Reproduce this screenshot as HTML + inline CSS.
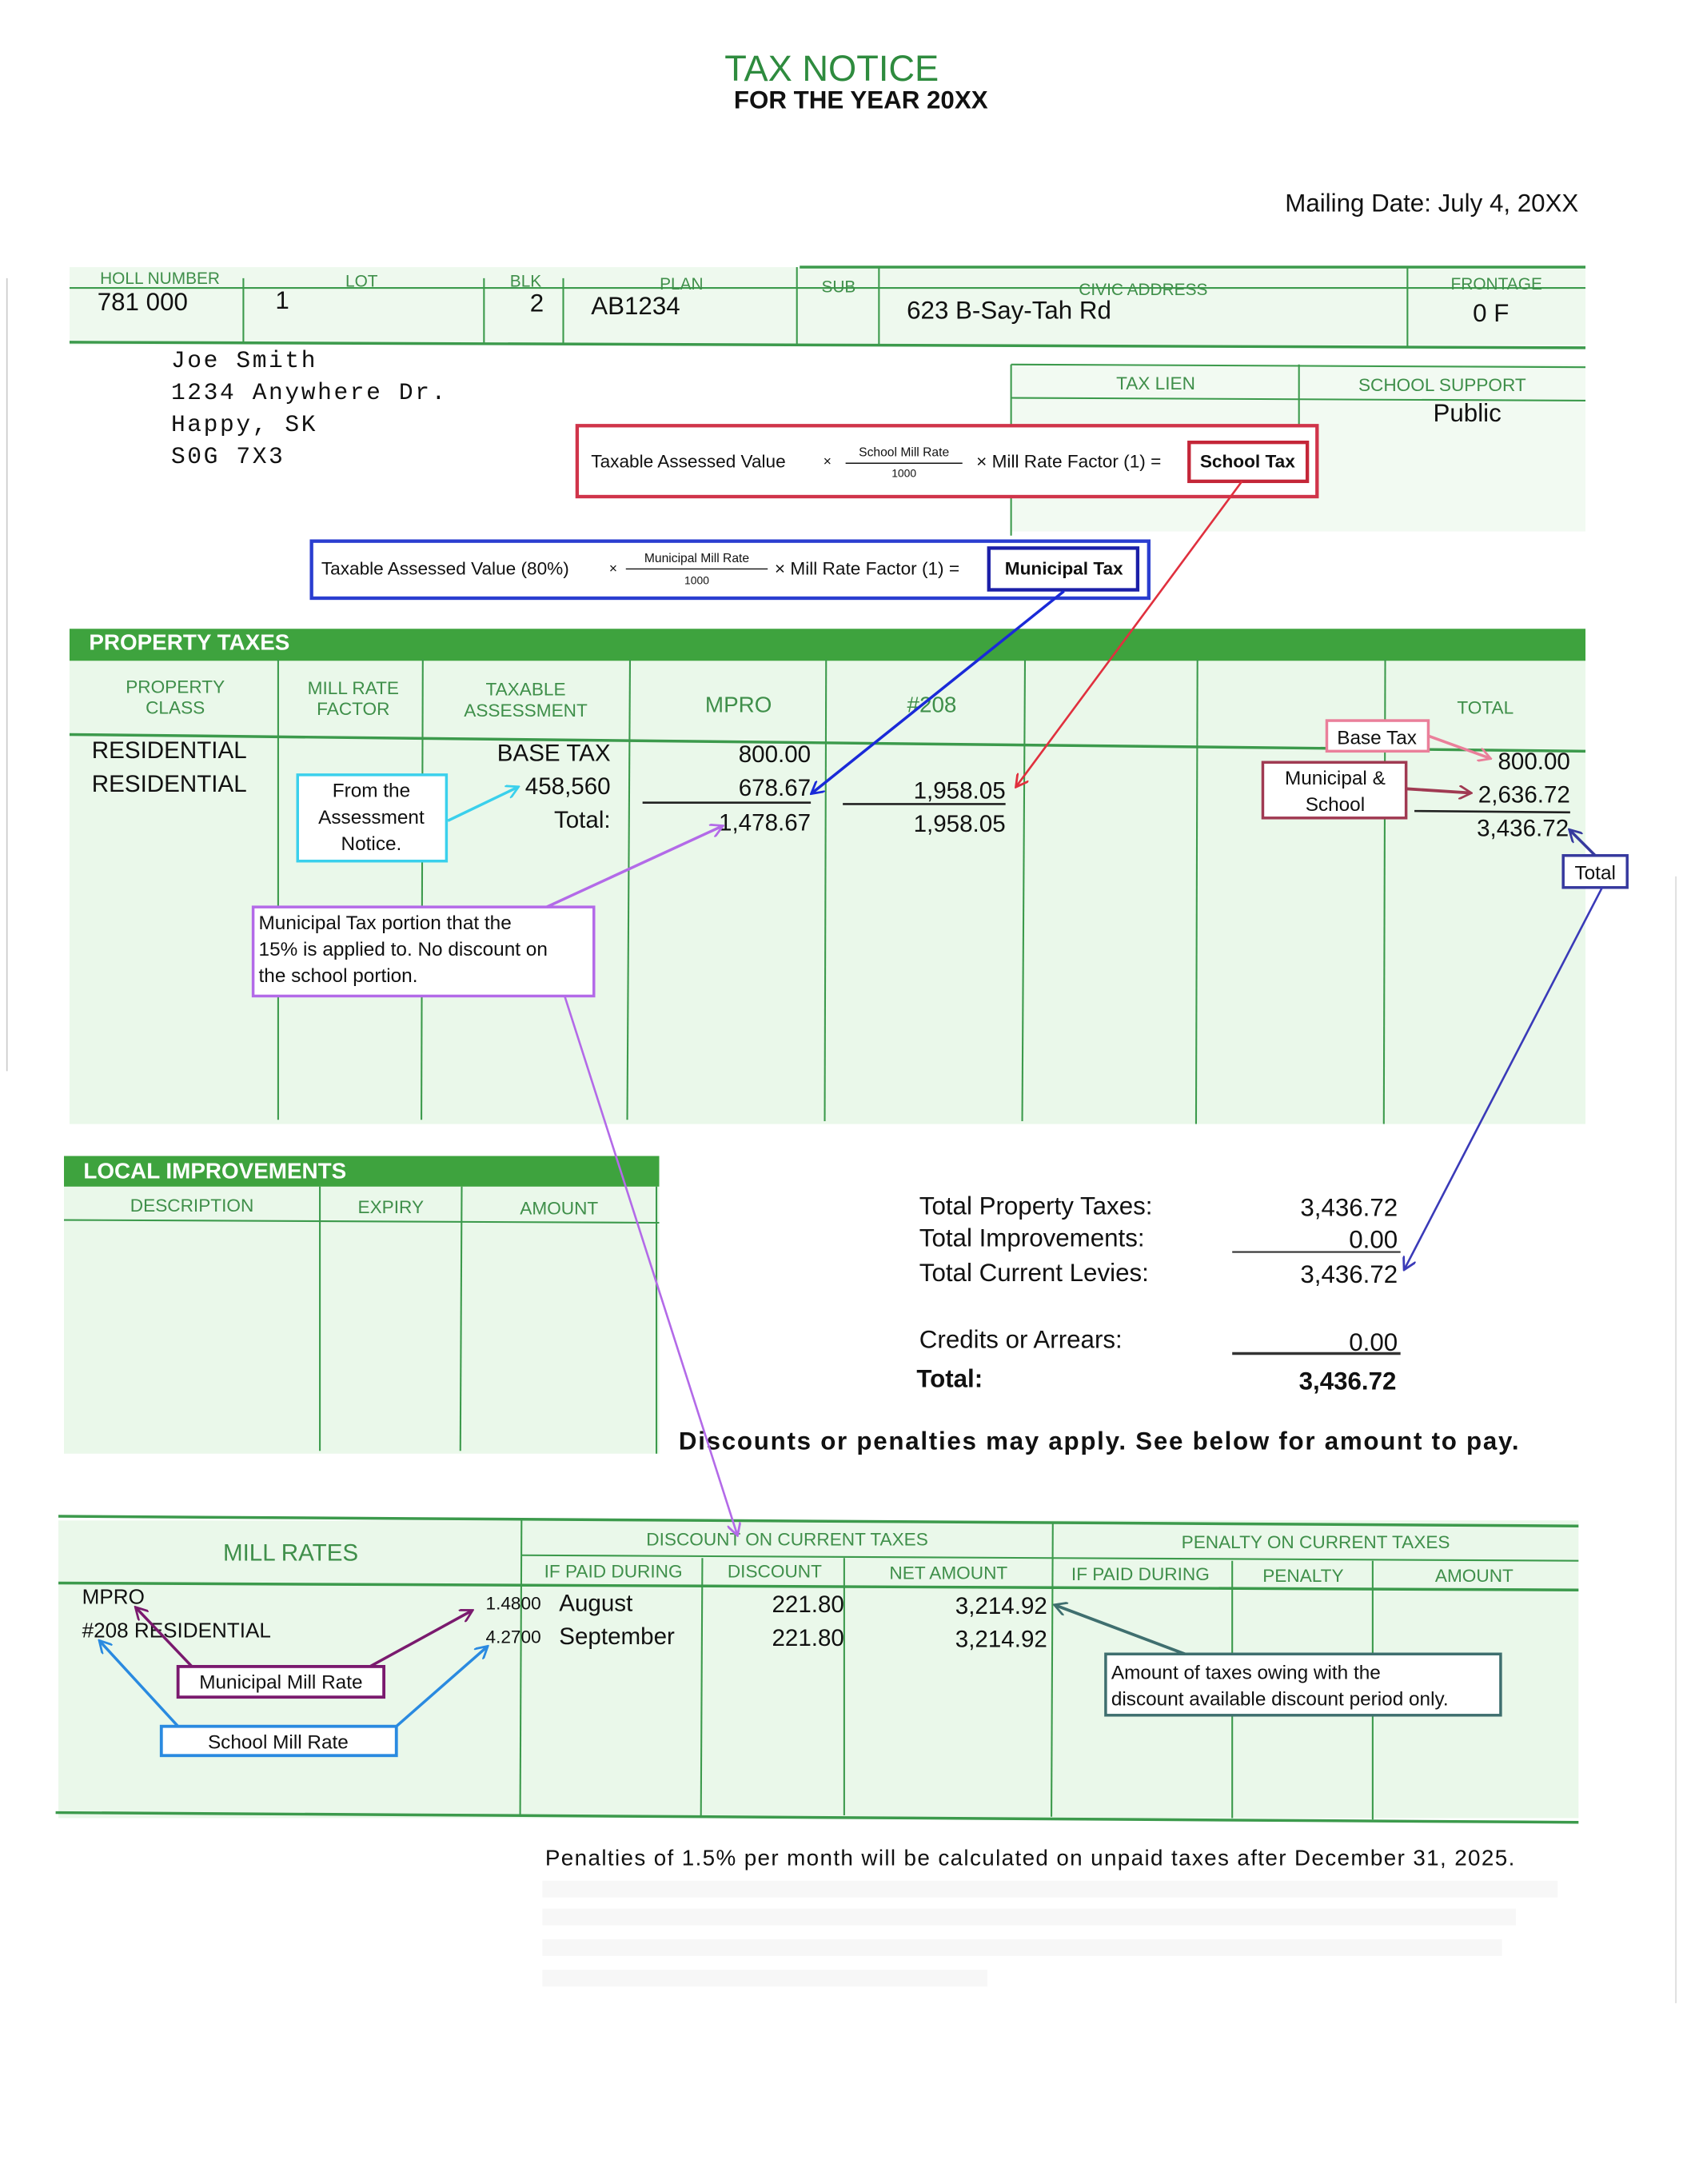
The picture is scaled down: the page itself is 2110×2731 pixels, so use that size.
<!DOCTYPE html>
<html><head><meta charset="utf-8"><style>
html,body{margin:0;padding:0;background:#fff;}
svg{display:block;}
text{font-family:"Liberation Sans",Arial,sans-serif;}
text.m{font-family:"Liberation Mono","DejaVu Sans Mono",monospace;letter-spacing:1.5px;}
.g{fill:#3f8f4a;}
.ln{stroke:#3c9a4c;stroke-width:1.2;fill:none;}
.th{stroke:#3c9a4c;stroke-width:2;fill:none;}
.b{fill:#111;}
</style></head><body>
<svg width="2110" height="2731" viewBox="0 0 1213 1570" xmlns="http://www.w3.org/2000/svg">
<defs>
<marker id="a" markerWidth="10" markerHeight="10" refX="8" refY="5" orient="auto" markerUnits="userSpaceOnUse"><path d="M0,0 L9,5 L0,10" fill="none" stroke="context-stroke" stroke-width="1.6"/></marker>
</defs>
<rect width="1213" height="1570" fill="#fff"/>
<line x1="5" y1="200" x2="5" y2="770" stroke="#ccc" stroke-width="1"/>
<line x1="1205" y1="630" x2="1205" y2="1440" stroke="#ddd" stroke-width="1"/>

<text x="598" y="58" text-anchor="middle" font-size="26" fill="#2e8b3e">TAX NOTICE</text>
<text x="619" y="78" text-anchor="middle" font-size="18" font-weight="bold" class="b">FOR THE YEAR 20XX</text>
<text x="1135" y="152" text-anchor="end" font-size="18" class="b">Mailing Date: July 4, 20XX</text>

<rect x="50" y="192" width="1090" height="56" fill="#eef9ee"/>
<line class="th" x1="575" y1="192" x2="1140" y2="192"/>
<line class="ln" x1="50" y1="207" x2="1140" y2="207"/>
<line class="th" x1="50" y1="246" x2="1140" y2="250"/>
<g class="ln"><line x1="175" y1="200" x2="175" y2="246"/><line x1="348" y1="200" x2="348" y2="247"/><line x1="405" y1="200" x2="405" y2="247"/><line x1="573" y1="192" x2="573" y2="248"/><line x1="632" y1="192" x2="632" y2="248"/><line x1="1012" y1="192" x2="1012" y2="250"/></g>
<g font-size="12" class="g" text-anchor="middle">
<text x="115" y="204">HOLL NUMBER</text><text x="260" y="206">LOT</text><text x="378" y="206">BLK</text><text x="490" y="208">PLAN</text><text x="603" y="210">SUB</text><text x="822" y="212">CIVIC ADDRESS</text><text x="1076" y="208">FRONTAGE</text></g>
<g font-size="18" class="b">
<text x="70" y="223">781 000</text><text x="198" y="222">1</text><text x="381" y="224">2</text><text x="425" y="226">AB1234</text><text x="652" y="229">623 B-Say-Tah Rd</text><text x="1059" y="231">0 F</text></g>

<g font-size="17" class="b">
<text class="m" x="123" y="264">Joe Smith</text>
<text class="m" x="123" y="287">1234 Anywhere Dr.</text>
<text class="m" x="123" y="310">Happy, SK</text>
<text class="m" x="123" y="333">S0G 7X3</text></g>

<rect x="727" y="262" width="413" height="120" fill="#f2faf2"/>
<line class="ln" x1="727" y1="262" x2="1140" y2="264"/>
<line class="ln" x1="727" y1="286" x2="1140" y2="288"/>
<line class="ln" x1="727" y1="262" x2="727" y2="385"/>
<line class="ln" x1="934" y1="262" x2="934" y2="305"/>
<text x="831" y="280" font-size="13" class="g" text-anchor="middle">TAX LIEN</text>
<text x="1037" y="281" font-size="13" class="g" text-anchor="middle">SCHOOL SUPPORT</text>
<text x="1055" y="303" font-size="18" class="b" text-anchor="middle">Public</text>

<rect x="415" y="306" width="532" height="51" fill="#fff" stroke="#d0344a" stroke-width="2.5"/>
<text x="425" y="336" font-size="13" class="b">Taxable Assessed Value</text>
<text x="592" y="335" font-size="10" class="b">×</text>
<text x="650" y="328" font-size="9" text-anchor="middle" class="b">School Mill Rate</text>
<line x1="608" y1="333" x2="692" y2="333" stroke="#111" stroke-width="0.8"/>
<text x="650" y="343" font-size="8" text-anchor="middle" class="b">1000</text>
<text x="702" y="336" font-size="13" class="b">× Mill Rate Factor (1) =</text>
<rect x="855" y="318" width="85" height="28" fill="#fff" stroke="#c42638" stroke-width="2.5"/>
<text x="897" y="336" font-size="13" font-weight="bold" text-anchor="middle" class="b">School Tax</text>

<rect x="224" y="389" width="602" height="41" fill="#fff" stroke="#2a3ed0" stroke-width="2.5"/>
<text x="231" y="413" font-size="13" class="b">Taxable Assessed Value (80%)</text>
<text x="438" y="412" font-size="10" class="b">×</text>
<text x="501" y="404" font-size="9" text-anchor="middle" class="b">Municipal Mill Rate</text>
<line x1="450" y1="409" x2="552" y2="409" stroke="#111" stroke-width="0.8"/>
<text x="501" y="420" font-size="8" text-anchor="middle" class="b">1000</text>
<text x="557" y="413" font-size="13" class="b">× Mill Rate Factor (1) =</text>
<rect x="711" y="394" width="107" height="30" fill="#fff" stroke="#1b1fa8" stroke-width="2.5"/>
<text x="765" y="413" font-size="13" font-weight="bold" text-anchor="middle" class="b">Municipal Tax</text>

<rect x="50" y="474" width="1090" height="334" fill="#eaf8ea"/>
<rect x="50" y="452" width="1090" height="23" fill="#3ea33e"/>
<text x="64" y="467" font-size="16" font-weight="bold" fill="#fff">PROPERTY TAXES</text>
<line class="th" x1="50" y1="528" x2="1140" y2="540"/>
<g class="ln"><line x1="200" y1="474" x2="200" y2="805"/><line x1="304" y1="474" x2="303" y2="805"/><line x1="453" y1="474" x2="451" y2="805"/><line x1="594" y1="474" x2="593" y2="806"/><line x1="737" y1="474" x2="735" y2="806"/><line x1="861" y1="474" x2="860" y2="808"/><line x1="996" y1="474" x2="995" y2="808"/></g>
<g font-size="13" class="g" text-anchor="middle">
<text x="126" y="498">PROPERTY</text><text x="126" y="513">CLASS</text>
<text x="254" y="499">MILL RATE</text><text x="254" y="514">FACTOR</text>
<text x="378" y="500">TAXABLE</text><text x="378" y="515">ASSESSMENT</text>
<text x="531" y="512" font-size="16">MPRO</text><text x="670" y="512" font-size="16">#208</text>
<text x="1068" y="513">TOTAL</text></g>
<g font-size="17" class="b">
<text x="66" y="545">RESIDENTIAL</text><text x="66" y="569">RESIDENTIAL</text></g>
<g font-size="17" class="b" text-anchor="end">
<text x="439" y="547">BASE TAX</text><text x="439" y="571">458,560</text><text x="439" y="595">Total:</text>
<text x="583" y="548">800.00</text><text x="583" y="572">678.67</text><text x="583" y="597">1,478.67</text>
<text x="723" y="574">1,958.05</text><text x="723" y="598">1,958.05</text>
<text x="1129" y="553">800.00</text><text x="1129" y="577">2,636.72</text><text x="1128" y="601">3,436.72</text></g>
<g stroke="#222" stroke-width="1.5"><line x1="462" y1="577" x2="583" y2="577"/><line x1="606" y1="578" x2="723" y2="578"/><line x1="1017" y1="583" x2="1129" y2="584"/></g>

<rect x="46" y="853" width="428" height="192" fill="#eaf8ea"/>
<rect x="46" y="831" width="428" height="22" fill="#3ea33e"/>
<text x="60" y="847" font-size="16" font-weight="bold" fill="#fff">LOCAL IMPROVEMENTS</text>
<line class="ln" x1="46" y1="877" x2="474" y2="879"/>
<g class="ln"><line x1="230" y1="853" x2="230" y2="1043"/><line x1="332" y1="853" x2="331" y2="1043"/><line x1="472" y1="853" x2="472" y2="1045"/></g>
<g font-size="13" class="g" text-anchor="middle"><text x="138" y="871">DESCRIPTION</text><text x="281" y="872">EXPIRY</text><text x="402" y="873">AMOUNT</text></g>

<g font-size="18" class="b">
<text x="661" y="873">Total Property Taxes:</text><text x="661" y="896">Total Improvements:</text><text x="661" y="921">Total Current Levies:</text>
<text x="661" y="969">Credits or Arrears:</text><text x="659" y="997" font-weight="bold">Total:</text></g>
<g font-size="18" class="b" text-anchor="end">
<text x="1005" y="874">3,436.72</text><text x="1005" y="897">0.00</text><text x="1005" y="922">3,436.72</text>
<text x="1005" y="971">0.00</text><text x="1004" y="999" font-weight="bold">3,436.72</text></g>
<line x1="886" y1="900" x2="1007" y2="900" stroke="#333" stroke-width="1.2"/>
<line x1="886" y1="973" x2="1007" y2="973" stroke="#333" stroke-width="2"/>
<text x="488" y="1042" font-size="18" font-weight="bold" class="b" textLength="604" lengthAdjust="spacing">Discounts or penalties may apply.  See below for amount to pay.</text>

<rect x="42" y="1093" width="1093" height="214" fill="#eaf8ea"/>
<line class="th" x1="42" y1="1090" x2="1135" y2="1097"/>
<line class="ln" x1="375" y1="1118" x2="1135" y2="1122"/>
<line class="th" x1="42" y1="1138" x2="1135" y2="1143"/>
<line class="th" x1="40" y1="1303" x2="1135" y2="1310"/>
<g class="ln"><line x1="375" y1="1093" x2="374" y2="1305"/><line x1="757" y1="1095" x2="756" y2="1306"/><line x1="505" y1="1120" x2="504" y2="1305"/><line x1="607" y1="1120" x2="607" y2="1305"/><line x1="886" y1="1122" x2="886" y2="1307"/><line x1="987" y1="1122" x2="987" y2="1308"/></g>
<g class="g" text-anchor="middle">
<text x="209" y="1122" font-size="17">MILL RATES</text>
<text x="566" y="1111" font-size="13">DISCOUNT ON CURRENT TAXES</text>
<text x="946" y="1113" font-size="13">PENALTY ON CURRENT TAXES</text>
<g font-size="13"><text x="441" y="1134">IF PAID DURING</text><text x="557" y="1134">DISCOUNT</text><text x="682" y="1135">NET AMOUNT</text><text x="820" y="1136">IF PAID DURING</text><text x="937" y="1137">PENALTY</text><text x="1060" y="1137">AMOUNT</text></g></g>
<g font-size="15" class="b"><text x="59" y="1153">MPRO</text><text x="59" y="1177">#208 RESIDENTIAL</text></g>
<g font-size="13" class="b" text-anchor="end"><text x="389" y="1157">1.4800</text><text x="389" y="1181">4.2700</text></g>
<g font-size="17" class="b"><text x="402" y="1158">August</text><text x="402" y="1182">September</text></g>
<g font-size="17" class="b" text-anchor="end"><text x="607" y="1159">221.80</text><text x="607" y="1183">221.80</text><text x="753" y="1160">3,214.92</text><text x="753" y="1184">3,214.92</text></g>

<rect x="128" y="1198" width="148" height="22" fill="#fff" stroke="#7a1a6e" stroke-width="2.2"/>
<text x="202" y="1214" font-size="14" class="b" text-anchor="middle">Municipal Mill Rate</text>
<line x1="138" y1="1198" x2="98" y2="1156" stroke="#7a1a6e" stroke-width="2" marker-end="url(#a)"/>
<line x1="266" y1="1198" x2="339" y2="1158" stroke="#7a1a6e" stroke-width="2" marker-end="url(#a)"/>

<rect x="116" y="1241" width="169" height="21" fill="#fff" stroke="#2a8ae0" stroke-width="2.2"/>
<text x="200" y="1257" font-size="14" class="b" text-anchor="middle">School Mill Rate</text>
<line x1="128" y1="1241" x2="72" y2="1180" stroke="#2a8ae0" stroke-width="2" marker-end="url(#a)"/>
<line x1="285" y1="1241" x2="350" y2="1184" stroke="#2a8ae0" stroke-width="2" marker-end="url(#a)"/>

<rect x="795" y="1189" width="284" height="44" fill="#fff" stroke="#3f6f6f" stroke-width="2"/>
<g font-size="14" class="b"><text x="799" y="1207">Amount of taxes owing with the</text><text x="799" y="1226">discount available discount period only.</text></g>
<line x1="852" y1="1189" x2="759" y2="1154" stroke="#3f6f6f" stroke-width="2.2" marker-end="url(#a)"/>

<text x="392" y="1341" font-size="16" class="b" textLength="697" lengthAdjust="spacing">Penalties of 1.5% per month will be calculated on unpaid taxes after December 31, 2025.</text>
<g fill="#f7f7f7"><rect x="390" y="1352" width="730" height="12"/><rect x="390" y="1372" width="700" height="12"/><rect x="390" y="1394" width="690" height="12"/><rect x="390" y="1416" width="320" height="12"/></g>

<rect x="214" y="557" width="107" height="62" fill="#fff" stroke="#3ad0ec" stroke-width="2"/>
<g font-size="14" class="b" text-anchor="middle"><text x="267" y="573">From the</text><text x="267" y="592">Assessment</text><text x="267" y="611">Notice.</text></g>
<line x1="322" y1="590" x2="372" y2="566" stroke="#3ad0ec" stroke-width="2" marker-end="url(#a)"/>

<rect x="954" y="518" width="73" height="22" fill="#fff" stroke="#ea7f9a" stroke-width="2"/>
<text x="990" y="535" font-size="14" class="b" text-anchor="middle">Base Tax</text>
<line x1="1027" y1="529" x2="1071" y2="545" stroke="#ea7f9a" stroke-width="2" marker-end="url(#a)"/>

<rect x="908" y="548" width="103" height="40" fill="#fff" stroke="#a03a52" stroke-width="2"/>
<g font-size="14" class="b" text-anchor="middle"><text x="960" y="564">Municipal &amp;</text><text x="960" y="583">School</text></g>
<line x1="1011" y1="567" x2="1057" y2="570" stroke="#a03a52" stroke-width="2.2" marker-end="url(#a)"/>

<rect x="1124" y="615" width="46" height="23" fill="#fff" stroke="#36399e" stroke-width="2"/>
<text x="1147" y="632" font-size="14" class="b" text-anchor="middle">Total</text>
<line x1="1147" y1="615" x2="1129" y2="597" stroke="#36399e" stroke-width="2" marker-end="url(#a)"/>
<line x1="1152" y1="638" x2="1010" y2="912" stroke="#3a3ab8" stroke-width="1.5" marker-end="url(#a)"/>

<rect x="182" y="652" width="245" height="64" fill="#fff" stroke="#b36ae8" stroke-width="2"/>
<g font-size="14" class="b"><text x="186" y="668">Municipal Tax portion that the</text><text x="186" y="687">15% is applied to. No discount on</text><text x="186" y="706">the school portion.</text></g>
<line x1="393" y1="652" x2="519" y2="594" stroke="#b36ae8" stroke-width="2" marker-end="url(#a)"/>
<line x1="406" y1="716" x2="530" y2="1103" stroke="#b36ae8" stroke-width="1.5" marker-end="url(#a)"/>

<line x1="765" y1="425" x2="584" y2="570" stroke="#1a2ad8" stroke-width="2" marker-end="url(#a)"/>
<line x1="893" y1="346" x2="731" y2="565" stroke="#e0303e" stroke-width="1.5" marker-end="url(#a)"/>
</svg>
</body></html>
